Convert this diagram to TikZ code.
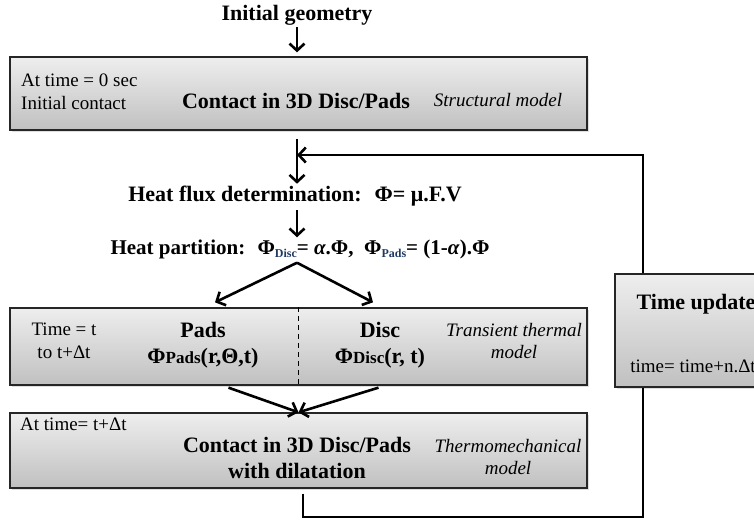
\documentclass[tikz,border=0pt]{standalone}
\usepackage{fontspec}
\setmainfont{Liberation Serif}
\definecolor{boxtop}{RGB}{238, 238, 238}
\definecolor{boxbot}{RGB}{192, 192, 192}
\definecolor{subblue}{RGB}{31, 56, 100}
\usetikzlibrary{arrows.meta, positioning, calc, shadows}

\newcommand{\hd}{\fontsize{22}{25.5}\selectfont\bfseries}
\newcommand{\rg}{\fontsize{19}{22.5}\selectfont}
\newcommand{\lowsub}[1]{\raisebox{-0.35ex}{\fontsize{12}{12}\selectfont\color{subblue}#1}}

\begin{document}
\begin{tikzpicture}[x=1pt, y=1pt,
  stage/.style={draw=black!85, line width=1.3pt, top color=boxtop, bottom color=boxbot,
    drop shadow={shadow xshift=2pt, shadow yshift=-2pt, opacity=0.25}, minimum width=577pt, inner sep=0pt},
  flow/.style={line width=2.6pt, -{Straight Barb[length=7pt, width=15pt]}},
  loop/.style={line width=2.6pt},
  note/.style={font=\rg, align=left, inner sep=0pt},
  label/.style={font=\rg\itshape, align=center, inner sep=0pt},
  title/.style={font=\hd, align=center, inner sep=2pt}]
  \useasboundingbox (0,0) rectangle (754,-520);
  \clip (0,0) rectangle (754,-520);

  % boxes
  \node[stage, minimum height=73pt] (contact) at (298.5,-93.5) {};
  \node[stage, minimum height=77pt] (thermal) at (298.5,-346.5) {};
  \node[stage, minimum height=75pt] (dilat) at (298.5,-450.5) {};
  \node[stage, minimum width=157pt, minimum height=113pt] (update) at (693.5,-330.5) {};

  \coordinate (join) at (297,-155);
  \coordinate (upx) at (643,0);
  \coordinate (low) at (0,-517);
  \coordinate (drop) at ($(dilat.south)+(4.5,-5)$);

  % texts
  \node[title] (init) at (297,-15) {Initial geometry};
  \node[note, anchor=west] (start) at (21,-92) {At time = 0 sec\\Initial contact};
  \node[title] (contact3d) at (296,-101) {Contact in 3D Disc/Pads};
  \node[label] (struct) at (498,-100) {Structural model};

  \node[title] (flux) at (295,-196) {Heat flux determination:~ Φ= μ.F.V};
  \node[title, font=\fontsize{21}{25}\selectfont\bfseries] (part) at (300,-249) {Heat partition:~ Φ\lowsub{Disc}= \textit{α}.Φ,~ Φ\lowsub{Pads}= (1-\textit{α}).Φ};

  \node[note, align=center] (tstep) at (64,-341) {Time = t\\to t+Δt};
  \node[title, inner sep=0pt] (pads) at (203,-345) {Pads\\Φ{\fontsize{17}{17}\selectfont Pads}(r,Θ,t)};
  \node[title, inner sep=0pt] (disc) at (380,-345) {Disc\\Φ{\fontsize{17}{17}\selectfont Disc}(r, t)};
  \node[label] (trans) at (514,-341) {Transient thermal\\model};

  \node[note, anchor=west] (later) at (20,-424) {At time= t+Δt};
  \node[title, inner sep=0pt] (contactdil) at (297,-458) {Contact in 3D Disc/Pads\\with dilatation};
  \node[label] (thermo) at (508,-457) {Thermomechanical\\model};

  \node[title, inner sep=0pt] (tupd) at (696,-304) {Time update};
  \node[note] (tnew) at (693,-366) {time= time+n.Δt};

  % connectors
  \draw[line width=1.2pt, dash pattern=on 5pt off 4pt] (thermal.north) -- (thermal.south);
  \draw[flow] (init.south) -- ($(contact.north -| init)+(0,4)$);
  \draw[flow] ($(contact.south -| join)+(0,-8)$) -- (flux.north -| join);
  \draw[flow] ($(flux.south -| join)+(0,-2)$) -- (part.north -| join);
  \draw[flow] ($(part.south -| join)+(0,-2)$) -- ($(thermal.north)+(-83.5,5)$);
  \draw[flow] ($(part.south -| join)+(0,-2)$) -- ($(thermal.north)+(74.5,5)$);
  \draw[flow] ($(thermal.south)+(-70,-2)$) -- (dilat.north);
  \draw[flow] ($(thermal.south)+(80,-2)$) -- (dilat.north);
  \draw[flow] (update.north -| upx) |- (join);
  \draw[loop] (drop) -- (drop |- low) -| (update.south -| upx);
\end{tikzpicture}
\end{document}
